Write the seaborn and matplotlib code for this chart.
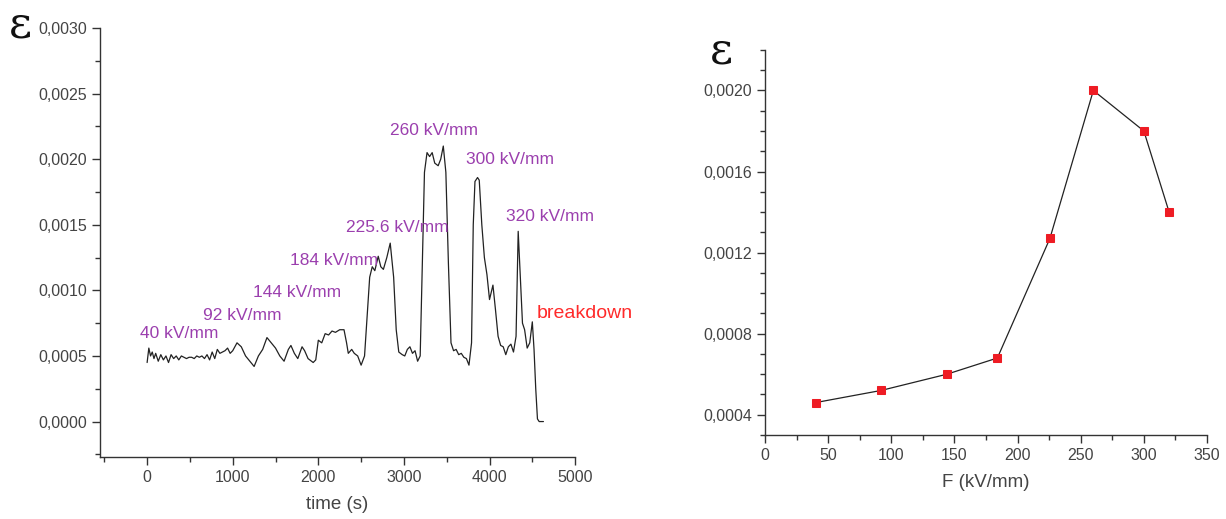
import numpy as np
import pandas as pd
import matplotlib
matplotlib.use("Agg")
import matplotlib.pyplot as plt
from matplotlib.ticker import FuncFormatter, MultipleLocator
import seaborn as sns

# strain vs time trace (left panel)
time_s = [0, 20, 40, 60, 80, 100, 130, 160, 190, 220, 250, 280, 310, 340, 370, 400,
          430, 460, 490, 520, 550, 580, 610, 640, 670, 700, 730, 760, 790, 820, 850,
          880, 910, 940, 970, 1000, 1050, 1100, 1150, 1200, 1250, 1300, 1350, 1400,
          1450, 1500, 1550, 1600, 1650, 1680, 1720, 1760, 1810, 1840, 1880, 1940,
          1970, 2000, 2040, 2080, 2120, 2160, 2200, 2250, 2300, 2330, 2350, 2390,
          2420, 2460, 2500, 2540, 2570, 2600, 2630, 2660, 2700, 2730, 2760, 2800,
          2840, 2880, 2910, 2940, 2980, 3010, 3040, 3070, 3100, 3130, 3160, 3190,
          3215, 3240, 3270, 3300, 3330, 3360, 3400, 3430, 3460, 3490, 3520, 3550,
          3580, 3610, 3640, 3670, 3700, 3730, 3760, 3790, 3810, 3830, 3860, 3880,
          3910, 3940, 3970, 4000, 4040, 4070, 4100, 4130, 4160, 4190, 4220, 4250,
          4280, 4310, 4335, 4360, 4385, 4410, 4440, 4470, 4500, 4520, 4540, 4560,
          4580, 4630]
strain = [0.00045, 0.00056, 0.00050, 0.00053, 0.00048, 0.00052, 0.00046, 0.00051,
          0.00047, 0.00050, 0.00045, 0.00051, 0.00048, 0.00050, 0.00047, 0.00050,
          0.00049, 0.00048, 0.00049, 0.00049, 0.00048, 0.00050, 0.00049, 0.00050,
          0.00048, 0.00051, 0.00047, 0.00053, 0.00048, 0.00055, 0.00052, 0.00053,
          0.00054, 0.00056, 0.00052, 0.00054, 0.00060, 0.00057, 0.00050, 0.00046,
          0.00042, 0.00050, 0.00055, 0.00064, 0.00060, 0.00056, 0.00050, 0.00046,
          0.00055, 0.00058, 0.00052, 0.00048, 0.00057, 0.00054, 0.00048, 0.00045,
          0.00047, 0.00062, 0.00060, 0.00067, 0.00066, 0.00069, 0.00068, 0.00070,
          0.00070, 0.00060, 0.00052, 0.00055, 0.00052, 0.00050, 0.00043, 0.00050,
          0.00080, 0.00110, 0.00118, 0.00115, 0.00126, 0.00118, 0.00116, 0.00125,
          0.00136, 0.00110, 0.00070, 0.00053, 0.00051, 0.00050, 0.00055, 0.00057,
          0.00052, 0.00054, 0.00046, 0.00050, 0.00120, 0.00190, 0.00205, 0.00202,
          0.00205, 0.00197, 0.00195, 0.00200, 0.00210, 0.00190, 0.00120, 0.00060,
          0.00054, 0.00055, 0.00051, 0.00052, 0.00049, 0.00048, 0.00043, 0.00060,
          0.00150, 0.00183, 0.00186, 0.00184, 0.00150, 0.00125, 0.00112, 0.00093,
          0.00104, 0.00085, 0.00065, 0.00058, 0.00057, 0.00051, 0.00057, 0.00059,
          0.00053, 0.00065, 0.00145, 0.00110, 0.00075, 0.00070, 0.00056, 0.00060,
          0.00076, 0.00055, 0.00025, 0.00002, 0.0, 0.0]

# field labels on the trace
field_labels = ["40 kV/mm", "92 kV/mm", "144 kV/mm", "184 kV/mm", "225.6 kV/mm",
                "260 kV/mm", "300 kV/mm", "320 kV/mm"]
label_t = [-80, 654, 1238, 1670, 2325, 2840, 3727, 4194]
label_eps = [0.00067, 0.00081, 0.00098, 0.00123, 0.00148, 0.00222, 0.00200, 0.00156]

# strain vs field (right panel)
field_kv = [40, 92, 144, 184, 225.6, 260, 300, 320]
strain_max = [0.00046, 0.00052, 0.00060, 0.00068, 0.00127, 0.00200, 0.00180, 0.00140]

sns.set_style("ticks")
plt.rcParams['font.family'] = ['Liberation Sans', 'DejaVu Sans']

comma_fmt = FuncFormatter(lambda v, pos: f"{v:.4f}".replace('.', ','))
axis_col = '#333333'
text_col = '#444444'


def style_axes(ax):
    sns.despine(ax=ax)
    for side in ['left', 'bottom']:
        ax.spines[side].set_color(axis_col)
        ax.spines[side].set_linewidth(1.0)
    ax.tick_params(which='major', length=6, width=1, color=axis_col,
                   labelsize=11.5, labelcolor=text_col)
    ax.tick_params(which='minor', length=3.5, width=1, color=axis_col)
    ax.yaxis.set_major_formatter(comma_fmt)


fig = plt.figure(figsize=(12.26, 5.19), dpi=100)
ax1 = fig.add_axes([0.0816, 0.1195, 0.3875, 0.8266])
ax2 = fig.add_axes([0.624, 0.1618, 0.3605, 0.742])

# left: time trace
trace = pd.DataFrame({'time': time_s, 'eps': strain})
sns.lineplot(data=trace, x='time', y='eps', ax=ax1, color='#222222', lw=0.9)
ax1.set_xlim(-550, 5000)
ax1.set_ylim(-0.00027, 0.0030)
ax1.xaxis.set_major_locator(MultipleLocator(1000))
ax1.xaxis.set_minor_locator(MultipleLocator(500))
ax1.yaxis.set_major_locator(MultipleLocator(0.0005))
ax1.yaxis.set_minor_locator(MultipleLocator(0.00025))
style_axes(ax1)
ax1.set_xlabel('time (s)', fontsize=13.5, color=text_col, labelpad=8)
ax1.set_ylabel('')

for lab, t, e in zip(field_labels, label_t, label_eps):
    ax1.text(t, e, lab, color='#9b3fae', fontsize=12.5, va='center', ha='left')
ax1.text(4556, 0.00082, 'breakdown', color='#ff2a2a', fontsize=14, va='center', ha='left')

# right: strain vs field
curve = pd.DataFrame({'F': field_kv, 'eps': strain_max})
sns.lineplot(data=curve, x='F', y='eps', ax=ax2, color='#222222', lw=0.9,
             marker='s', markersize=5.5, markerfacecolor='#ee1c24',
             markeredgecolor='#ee1c24')
ax2.set_xlim(0, 350)
ax2.set_ylim(0.0003, 0.0022)
ax2.xaxis.set_major_locator(MultipleLocator(50))
ax2.xaxis.set_minor_locator(MultipleLocator(25))
ax2.yaxis.set_major_locator(MultipleLocator(0.0004))
ax2.yaxis.set_minor_locator(MultipleLocator(0.0001))
style_axes(ax2)
ax2.set_xlabel('F (kV/mm)', fontsize=13.5, color=text_col, labelpad=8)
ax2.set_ylabel('')

# epsilon symbols
fig.text(0.007, 0.952, 'ε', fontsize=32, family='DejaVu Serif', va='center', color='#111111')
fig.text(0.579, 0.902, 'ε', fontsize=32, family='DejaVu Serif', va='center', color='#111111')

fig.savefig('out.png', dpi=100)
